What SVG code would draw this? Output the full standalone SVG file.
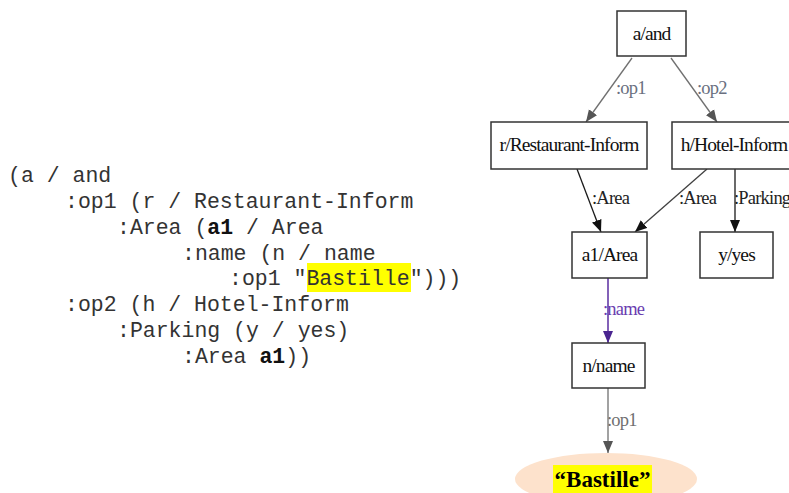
<svg xmlns="http://www.w3.org/2000/svg" width="789" height="493" viewBox="0 0 789 493">
<style>
.code{font-family:"Liberation Mono","Courier New",monospace;font-size:21.5px;fill:#333;}
.b{font-weight:bold;fill:#111;}
.box{fill:#fff;stroke:#333;stroke-width:1.5;}
.nt{font-family:"Liberation Serif","Times New Roman",serif;font-size:19.5px;fill:#111;text-anchor:middle;letter-spacing:-0.9px;}
.el{font-family:"Liberation Serif","Times New Roman",serif;font-size:18.5px;letter-spacing:-0.8px;}
.gray{stroke:#707070;stroke-width:1.3;fill:none;}
.blk{stroke:#1a1a1a;stroke-width:1.3;fill:none;}
.dg{stroke:#404040;stroke-width:1.3;fill:none;}
.pur{stroke:#5a2ca0;stroke-width:1.5;fill:none;}
</style>
<defs>
<marker id="mg" markerUnits="userSpaceOnUse" markerWidth="13" markerHeight="11" refX="12" refY="5.5" orient="auto"><path d="M0,0.5 L12,5.5 L0,10.5 z" fill="#555"/></marker>
<marker id="mb" markerUnits="userSpaceOnUse" markerWidth="13" markerHeight="11" refX="12" refY="5.5" orient="auto"><path d="M0,0.5 L12,5.5 L0,10.5 z" fill="#111"/></marker>
<marker id="mp" markerUnits="userSpaceOnUse" markerWidth="13" markerHeight="11" refX="12" refY="5.5" orient="auto"><path d="M0,0.5 L12,5.5 L0,10.5 z" fill="#4a2590"/></marker>
</defs>
<rect width="789" height="493" fill="#fff"/>

<g id="amr-text">
<rect x="307" y="263" width="104" height="29" fill="#ffff00"/>
<text class="code" x="8" y="182">(a / and</text>
<text class="code" x="65" y="208">:op1 (r / Restaurant-Inform</text>
<text class="code" x="117" y="234">:Area (<tspan class="b">a1</tspan> / Area</text>
<text class="code" x="182" y="260">:name (n / name</text>
<text class="code" x="229" y="285">:op1 "Bastille")))</text>
<text class="code" x="65" y="311">:op2 (h / Hotel-Inform</text>
<text class="code" x="117" y="337">:Parking (y / yes)</text>
<text class="code" x="182" y="363">:Area <tspan class="b">a1</tspan>))</text>
</g>

<g id="connectors">
<line class="gray" x1="632" y1="58" x2="586" y2="122" marker-end="url(#mg)"/>
<line class="gray" x1="671" y1="58" x2="717" y2="122" marker-end="url(#mg)"/>
<line class="blk" x1="577" y1="169" x2="601" y2="232" marker-end="url(#mb)"/>
<line class="dg" x1="707" y1="169" x2="635" y2="232" marker-end="url(#mb)"/>
<line class="blk" x1="735" y1="169" x2="735" y2="232" marker-end="url(#mb)"/>
<line class="pur" x1="608" y1="278" x2="608" y2="343" marker-end="url(#mp)"/>
<line class="gray" x1="608" y1="388" x2="608" y2="453" marker-end="url(#mg)"/>
<text class="el" x="616" y="94" fill="#6a7080">:op1</text>
<text class="el" x="697" y="94" fill="#6a7080">:op2</text>
<text class="el" x="592" y="204" fill="#222">:Area</text>
<text class="el" x="679" y="204" fill="#222">:Area</text>
<text class="el" x="734" y="204" fill="#222">:Parking</text>
<text class="el" x="603" y="315" fill="#6a3db0">:name</text>
<text class="el" x="607" y="426" fill="#707070">:op1</text>
</g>

<g id="n-a">
<rect class="box" x="617" y="11" width="69" height="45"/>
<text class="nt" x="651.5" y="40">a/and</text>
</g>
<g id="n-r">
<rect class="box" x="491" y="122" width="156" height="47"/>
<text class="nt" x="569" y="151">r/Restaurant-Inform</text>
</g>
<g id="n-h">
<rect class="box" x="672" y="122" width="130" height="47"/>
<text class="nt" x="734" y="151">h/Hotel-Inform</text>
</g>
<g id="n-a1">
<rect class="box" x="572" y="232" width="75" height="46"/>
<text class="nt" x="609.5" y="261">a1/Area</text>
</g>
<g id="n-y">
<rect class="box" x="700" y="232" width="73" height="46"/>
<text class="nt" x="736.5" y="261">y/yes</text>
</g>
<g id="n-n">
<rect class="box" x="572" y="343" width="73" height="45"/>
<text class="nt" x="608.5" y="372">n/name</text>
</g>
<g id="n-bastille">
<ellipse cx="606" cy="479" rx="91" ry="26" fill="#fde2cc"/>
<rect x="553" y="465" width="99" height="30" fill="#ffff00"/>
<text x="602.5" y="487" text-anchor="middle" font-family="'Liberation Serif','Times New Roman',serif" font-size="23" font-weight="bold" fill="#000">“Bastille”</text>
</g>
</svg>
